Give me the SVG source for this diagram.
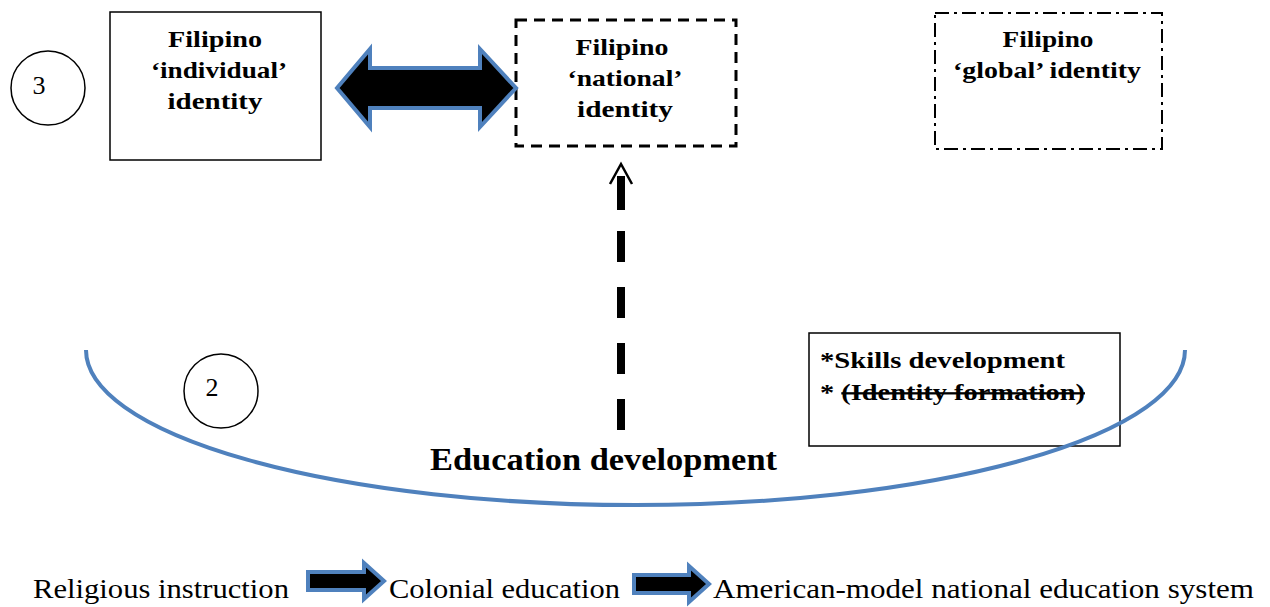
<svg xmlns="http://www.w3.org/2000/svg" width="1270" height="607" viewBox="0 0 1270 607">
  <style>
    .lbl { font-family: "Liberation Serif", "Times New Roman", serif; font-weight: bold; font-size: 23px; fill: #000; text-anchor: middle; }
    .plain { font-family: "Liberation Serif", "Times New Roman", serif; font-size: 27px; fill: #000; }
    .num { font-family: "Liberation Serif", "Times New Roman", serif; font-size: 26px; fill: #000; text-anchor: middle; }
    .ring { fill: #fff; stroke: #000; stroke-width: 1.5; }
    .blue { fill: #000; stroke: #4F81BD; stroke-width: 4; stroke-linejoin: miter; }
  </style>
  <rect width="1270" height="607" fill="#fff"/>

  <!-- Nodes -->
  <g id="marker-3">
    <circle class="ring" cx="48" cy="88" r="37"/>
    <text class="num" x="39" y="94">3</text>
  </g>

  <g id="individual-identity">
    <rect x="110" y="12" width="211" height="148" fill="#fff" stroke="#000" stroke-width="1.5"/>
    <text class="lbl" x="215" y="47" textLength="94" lengthAdjust="spacingAndGlyphs">Filipino</text>
    <text class="lbl" x="219" y="78" textLength="136" lengthAdjust="spacingAndGlyphs">‘individual’</text>
    <text class="lbl" x="215" y="109" textLength="95" lengthAdjust="spacingAndGlyphs">identity</text>
  </g>

  <g id="national-identity">
    <rect x="516" y="20" width="220" height="126" fill="#fff" stroke="#000" stroke-width="3" stroke-dasharray="11 7"/>
    <text class="lbl" x="622" y="55" textLength="93" lengthAdjust="spacingAndGlyphs">Filipino</text>
    <text class="lbl" x="625" y="86" textLength="115" lengthAdjust="spacingAndGlyphs">‘national’</text>
    <text class="lbl" x="625" y="117" textLength="96" lengthAdjust="spacingAndGlyphs">identity</text>
  </g>

  <g id="global-identity">
    <rect x="935" y="13" width="227" height="136" fill="#fff" stroke="#000" stroke-width="2" stroke-dasharray="14 5 3 5"/>
    <text class="lbl" x="1048" y="47" textLength="91" lengthAdjust="spacingAndGlyphs">Filipino</text>
    <text class="lbl" x="1047" y="78" textLength="188" lengthAdjust="spacingAndGlyphs">‘global’ identity</text>
  </g>

  <g id="marker-2">
    <circle class="ring" cx="221" cy="391" r="37"/>
    <text class="num" x="212" y="396">2</text>
  </g>

  <g id="focus-note">
    <rect x="809" y="333" width="311" height="113" fill="#fff" stroke="#000" stroke-width="1.5"/>
    <text class="lbl" x="820" y="368" style="text-anchor:start" textLength="245" lengthAdjust="spacingAndGlyphs">*Skills development</text>
    <text class="lbl" x="820" y="400" style="text-anchor:start" textLength="265" lengthAdjust="spacingAndGlyphs">* <tspan text-decoration="line-through">(Identity formation)</tspan></text>
  </g>

  <g id="education-development">
    <text class="lbl" x="430" y="470" style="font-size:31px;text-anchor:start" textLength="347" lengthAdjust="spacingAndGlyphs">Education development</text>
  </g>

  <!-- Connectors -->
  <g id="connectors">
    <!-- education development arc -->
    <path d="M86,350 A549,155 0 0 0 1185,350" fill="none" stroke="#4F81BD" stroke-width="4"/>
    <!-- two-way link individual / national -->
    <path class="blue" d="M337,88 L370,49 L370,68 L480,68 L480,49 L516,88 L480,127 L480,108 L370,108 L370,127 Z"/>
    <!-- education development towards national identity -->
    <line x1="621" y1="430" x2="621" y2="178" stroke="#000" stroke-width="8" stroke-dasharray="31 25"/>
    <line x1="621" y1="210" x2="621" y2="176" stroke="#000" stroke-width="8"/>
    <polyline points="610,184 621,164 632,184" fill="none" stroke="#000" stroke-width="2.5" stroke-linejoin="miter"/>
    <!-- sequence arrows -->
    <path class="blue" d="M308,572 L364,572 L364,563 L384,581 L364,599 L364,590 L308,590 Z"/>
    <path class="blue" d="M634,575 L689,575 L689,566 L709,584 L689,602 L689,593 L634,593 Z"/>
  </g>

  <!-- Sequence labels -->
  <text class="plain" x="33" y="598" textLength="256" lengthAdjust="spacingAndGlyphs">Religious instruction</text>
  <text class="plain" x="389" y="598" textLength="231" lengthAdjust="spacingAndGlyphs">Colonial education</text>
  <text class="plain" x="713" y="598" textLength="541" lengthAdjust="spacingAndGlyphs">American-model national education system</text>
</svg>
